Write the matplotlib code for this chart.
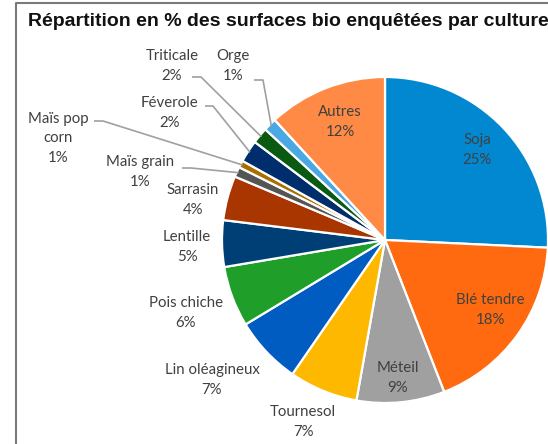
import numpy as np
import matplotlib
matplotlib.use("Agg")
import matplotlib.pyplot as plt

categories = ["Soja", "Blé tendre", "Méteil", "Tournesol", "Lin oléagineux",
              "Pois chiche", "Lentille", "Sarrasin", "Maïs grain", "Maïs pop\ncorn",
              "Féverole", "Triticale", "Orge", "Autres"]
values = [25.7, 18.3, 8.7, 6.8, 6.7, 6.0, 4.6, 4.4, 1.0, 0.7, 2.2, 1.6, 1.3, 11.8]
pct_labels = [25, 18, 9, 7, 7, 6, 5, 4, 1, 1, 2, 2, 1, 12]
colors = ["#0288D1", "#FF6A10", "#A0A0A0", "#FFB800", "#005CC0",
          "#1F9E2A", "#003F75", "#A93500", "#555555", "#A86E00",
          "#002E6C", "#0A5A12", "#4AA8E2", "#FF8A45"]

W, H = 548, 444
fig = plt.figure(figsize=(W / 100, H / 100), dpi=100)
ax = fig.add_axes([0, 0, 1, 1])

cx, cy, R = 385, 444 - 240, 163
wedges, _ = ax.pie(values, colors=colors, startangle=90, counterclock=False,
                   radius=R, center=(cx, cy),
                   wedgeprops=dict(edgecolor="white", linewidth=1.6))
ax.set_aspect("auto")
ax.set_xlim(0, W)
ax.set_ylim(0, H)
ax.axis("off")

FONT = "Lato"
TC = "#404040"
# label positions in pixel coords (x, y from top)
label_pos = [(477, 150), (490, 310), (398, 378), (303, 422), (212, 380),
             (186, 313), (187, 247), (193, 200), (140, 172), (58, 138),
             (170, 113), (172, 66), (233, 66), (340, 122)]
for name, pct, (x, y) in zip(categories, pct_labels, label_pos):
    ax.text(x, H - y, f"{name}\n{pct}%", ha="center", va="center",
            fontsize=10.8, family=FONT, color=TC, linespacing=1.5)

# leader lines: (index, text-side start, elbow)
leaders = [(12, (254, 80), (263, 80)),
           (11, (192, 77), (201, 77)),
           (10, (205, 106), (213, 106)),
           (9, (94, 121), (103, 121)),
           (8, (182, 168), (191, 168))]
for idx, p0, p1 in leaders:
    w = wedges[idx]
    th = np.deg2rad((w.theta1 + w.theta2) / 2)
    ax_ = cx + (R - 2) * np.cos(th)
    ay_ = cy + (R - 2) * np.sin(th)
    ax.plot([p0[0], p1[0], ax_], [H - p0[1], H - p1[1], ay_],
            color="#A0A0A0", lw=1.2, solid_capstyle="butt")

# frame
ax.plot([16, 16, W + 5], [-5, H - 3, H - 3], color="#7A7A7A", lw=1.5)

ax.text(288, H - 22, "Répartition en % des surfaces bio enquêtées par culture",
        ha="center", va="center", fontsize=14, fontweight="bold",
        family="Liberation Sans", color="#111111")

fig.savefig("out.png", dpi=100)
